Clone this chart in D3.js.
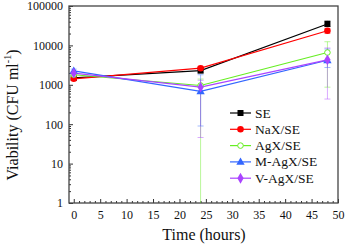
<!DOCTYPE html>
<html>
<head>
<meta charset="utf-8">
<script src="https://cdn.jsdelivr.net/npm/d3@7"></script>
<style>
  body { margin: 0; background: #fff; }
  svg { font-family: "Liberation Serif", "Times New Roman", serif; }
</style>
</head>
<body>
<svg id="chart" width="346" height="246"></svg>
<script>
// hours
let times = [0, 24, 48]
let seriesNames = ["SE", "NaX/SE", "AgX/SE", "M-AgX/SE", "V-AgX/SE"]
let seriesColors = ["#000000", "#ff0000", "#66ee22", "#3366ff", "#aa44ff"]
let seriesShapes = ["square", "circle", "open", "triangle", "diamond"]
// CFU per ml
let seSE = [1500, 2300, 35000]
let seNaX = [1420, 2640, 23500]
let seAgX = [1800, 960, 6600]
let seMAgX = [2250, 680, 4200]
let seVAgX = [1970, 870, 4300]
let loSE = [1350, 2000, 30000]
let hiSE = [1650, 2600, 42000]
let loNaX = [1300, 2350, 20000]
let hiNaX = [1550, 2950, 27000]
let loAgX = [1600, 0.5, 870]
let hiAgX = [2000, 1400, 12400]
let loMAgX = [2000, 90, 2750]
let hiMAgX = [2500, 1800, 8100]
let loVAgX = [1800, 46, 435]
let hiVAgX = [2150, 1300, 8600]
let yTicks = [1, 10, 100, 1000, 10000, 100000]
let xTicks = [0, 5, 10, 15, 20, 25, 30, 35, 40, 45, 50]

let values = [seSE, seNaX, seAgX, seMAgX, seVAgX]
let lows = [loSE, loNaX, loAgX, loMAgX, loVAgX]
let highs = [hiSE, hiNaX, hiAgX, hiMAgX, hiVAgX]

let margin = { left: 69, top: 6, right: 8, bottom: 43 }
let width = 346, height = 246
let bodyWidth = width - margin.left - margin.right
let bodyHeight = height - margin.top - margin.bottom

let svg = d3.select("#chart")
let xScale = d3.scaleLinear().domain([-0.9, 50]).range([0, bodyWidth])
let yScale = d3.scaleLog().domain([1, 100000]).range([bodyHeight, 0])

let body = svg.append("g").attr("transform", `translate(${margin.left},${margin.top})`)

body.append("clipPath").attr("id", "clip")
  .append("rect").attr("width", bodyWidth).attr("height", bodyHeight)

// minor ticks
let minorY = []
for (let e = 0; e < 5; e++) for (let m = 2; m <= 9; m++) minorY.push(m * Math.pow(10, e))
let minorX = d3.range(0, 51).filter(d => d % 5 != 0)

let axisX = d3.axisBottom(xScale).tickValues(xTicks).tickSize(-4).tickPadding(7)
body.append("g").attr("transform", `translate(0,${bodyHeight})`).call(axisX)
let axisXm = d3.axisBottom(xScale).tickValues(minorX).tickSize(-2).tickFormat("")
body.append("g").attr("transform", `translate(0,${bodyHeight})`).call(axisXm)

let axisY = d3.axisLeft(yScale).tickValues(yTicks).tickSize(-4).tickPadding(6).tickFormat(d3.format("d"))
body.append("g").call(axisY)
let axisYm = d3.axisLeft(yScale).tickValues(minorY).tickSize(-2).tickFormat("")
body.append("g").call(axisYm)

svg.selectAll(".domain").remove()
svg.selectAll(".tick line").attr("stroke", "#333")
svg.selectAll(".tick text").attr("font-size", 12).attr("fill", "#111")
  .attr("font-family", "Liberation Serif")

body.append("rect").attr("width", bodyWidth).attr("height", bodyHeight)
  .attr("fill", "none").attr("stroke", "#444").attr("stroke-width", 1.3)

let plot = body.append("g").attr("clip-path", "url(#clip)")

// error bars
values.forEach((vals, i) => {
  let c = seriesColors[i]
  times.forEach((t, j) => {
    let x = xScale(t)
    plot.append("line").attr("x1", x).attr("x2", x)
      .attr("y1", yScale(Math.max(lows[i][j], 0.5))).attr("y2", yScale(highs[i][j]))
      .attr("stroke", c).attr("stroke-opacity", 0.45).attr("stroke-width", 1)
    ;[lows[i][j], highs[i][j]].forEach(v => {
      if (v < 1) return
      plot.append("line").attr("x1", x - 3).attr("x2", x + 3)
        .attr("y1", yScale(v)).attr("y2", yScale(v))
        .attr("stroke", c).attr("stroke-opacity", 0.45).attr("stroke-width", 1)
    })
  })
})

let line = d3.line().x((d, j) => xScale(times[j])).y(d => yScale(d))

function drawMarker(g, shape, c, x, y) {
  if (shape == "square") {
    g.append("rect").attr("x", x - 3).attr("y", y - 3).attr("width", 6).attr("height", 6).attr("fill", c)
  } else if (shape == "circle") {
    g.append("circle").attr("cx", x).attr("cy", y).attr("r", 3.3).attr("fill", c)
  } else if (shape == "open") {
    g.append("circle").attr("cx", x).attr("cy", y).attr("r", 2.8).attr("fill", "#fff").attr("stroke", c).attr("stroke-width", 1)
  } else if (shape == "triangle") {
    g.append("path").attr("d", d3.symbol(d3.symbolTriangle, 30)()).attr("transform", `translate(${x},${y + 0.5})`).attr("fill", c)
  } else {
    g.append("path").attr("d", d3.symbol(d3.symbolDiamond, 34)()).attr("transform", `translate(${x},${y})`).attr("fill", c)
  }
}

values.forEach((vals, i) => {
  plot.append("path").datum(vals).attr("d", line)
    .attr("fill", "none").attr("stroke", seriesColors[i]).attr("stroke-width", 1.2)
})
values.forEach((vals, i) => {
  vals.forEach((v, j) => drawMarker(plot, seriesShapes[i], seriesColors[i], xScale(times[j]), yScale(v)))
})

// legend
let legend = svg.append("g").attr("transform", "translate(230,113)")
seriesNames.forEach((name, i) => {
  let g = legend.append("g").attr("transform", `translate(0,${i * 16.3})`)
  g.append("line").attr("x1", 0).attr("x2", 21).attr("stroke", seriesColors[i]).attr("stroke-width", 1.2)
  drawMarker(g, seriesShapes[i], seriesColors[i], 10.5, 0)
  g.append("text").attr("x", 25).attr("y", 4.5).attr("font-size", 13.5).attr("fill", "#111").text(name)
})

// axis titles
svg.append("text").attr("x", 204).attr("y", 240)
  .attr("text-anchor", "middle").attr("font-size", 16).attr("fill", "#111").text("Time (hours)")

let yt = svg.append("text").attr("transform", "translate(18,115) rotate(-90)")
  .attr("text-anchor", "middle").attr("font-size", 16).attr("fill", "#111")
yt.append("tspan").text("Viability (CFU ml")
yt.append("tspan").attr("font-size", 10).attr("dy", -7).text("-1")
yt.append("tspan").attr("dy", 7).text(")")
</script>
</body>
</html>
